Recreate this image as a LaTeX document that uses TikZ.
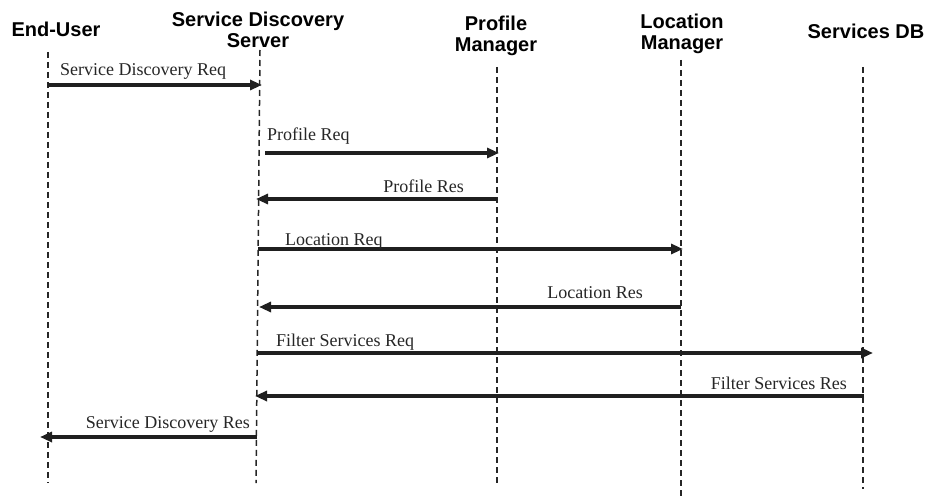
\documentclass[tikz,border=0pt]{standalone}
\usepackage{fontspec}
\setmainfont{Liberation Serif}
\newfontfamily\hdrfont{Liberation Sans}
\usetikzlibrary{arrows.meta}
\begin{document}
\begin{tikzpicture}[x=1pt,y=-1pt,
  hdr/.style={font=\hdrfont\bfseries\fontsize{20}{21}\selectfont, align=center, anchor=north, inner sep=0pt},
  life/.style={line width=1.5pt, dash pattern=on 6pt off 4pt, black!85},
  msg/.style={line width=3.2pt, black!88, -{Triangle[length=12pt,width=10pt]}},
  lbl/.style={font=\fontsize{18}{20}\selectfont, inner sep=0pt, black!85}
]
\useasboundingbox (0,0) rectangle (928,497);
% headers
\node[hdr] (hEU) at (56,22) {End-User};
\node[hdr] (hSDS) at (258,12) {Service Discovery\\Server};
\node[hdr] (hPM) at (496,16) {Profile\\Manager};
\node[hdr] (hLM) at (682,14) {Location\\Manager};
\node[hdr] (hDB) at (866,24) {Services DB};
% lifelines
\coordinate (euT) at (48,52);  \coordinate (euB) at (48,483);
\coordinate (sdT) at (260,50); \coordinate (sdB) at (256,483);
\coordinate (pmT) at (497,67); \coordinate (pmB) at (497,483);
\coordinate (lmT) at (681,60); \coordinate (lmB) at (681,497);
\coordinate (dbT) at (863,67); \coordinate (dbB) at (863,489);
\draw[life] (euT) -- (euB);
\draw[life] (sdT) -- (sdB);
\draw[life] (pmT) -- (pmB);
\draw[life] (lmT) -- (lmB);
\draw[life] (dbT) -- (dbB);
% message end points
\coordinate (m1a) at (48,85);   \coordinate (m1b) at (262,85);
\coordinate (m2a) at (265,153); \coordinate (m2b) at (499,153);
\coordinate (m3a) at (497,199); \coordinate (m3b) at (256,199);
\coordinate (m4a) at (258,249); \coordinate (m4b) at (683,249);
\coordinate (m5a) at (681,307); \coordinate (m5b) at (259,307);
\coordinate (m6a) at (257,353); \coordinate (m6b) at (873,353);
\coordinate (m7a) at (864,396); \coordinate (m7b) at (255,396);
\coordinate (m8a) at (257,437); \coordinate (m8b) at (40,437);
\draw[msg] (m1a) -- (m1b);
\draw[msg] (m2a) -- (m2b);
\draw[msg] (m3a) -- (m3b);
\draw[msg] (m4a) -- (m4b);
\draw[msg] (m5a) -- (m5b);
\draw[msg] (m6a) -- (m6b);
\draw[msg] (m7a) -- (m7b);
\draw[msg] (m8a) -- (m8b);
% labels
\node[lbl, anchor=base west] (l1) at (60,76) {Service Discovery Req};
\node[lbl, anchor=base west] (l2) at (267,141) {Profile Req};
\node[lbl, anchor=base east] (l3) at (464,193) {Profile Res};
\node[lbl, anchor=base west] (l4) at (285,245) {Location Req};
\node[lbl, anchor=base east] (l5) at (643,298) {Location Res};
\node[lbl, anchor=base west] (l6) at (276,346) {Filter Services Req};
\node[lbl, anchor=base east] (l7) at (847,389) {Filter Services Res};
\node[lbl, anchor=base east] (l8) at (250,428) {Service Discovery Res};
\end{tikzpicture}
\end{document}
